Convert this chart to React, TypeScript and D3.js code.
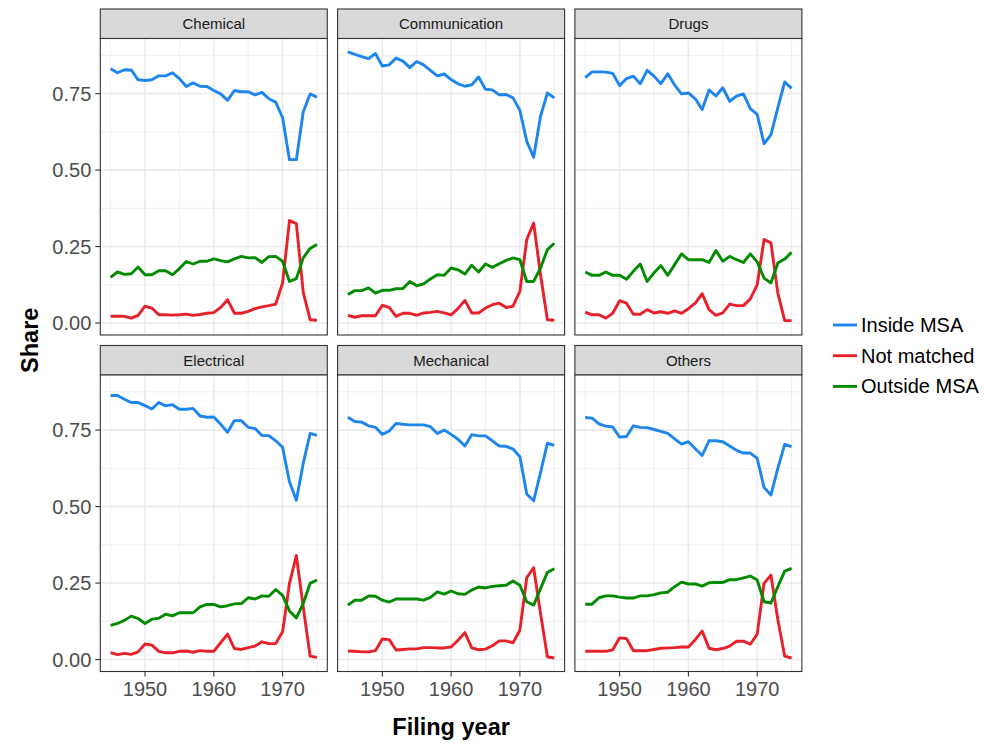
import React from "react";
import * as d3 from "d3";

const years = [1945, 1946, 1947, 1948, 1949, 1950, 1951, 1952, 1953, 1954, 1955, 1956, 1957, 1958, 1959, 1960, 1961, 1962, 1963, 1964, 1965, 1966, 1967, 1968, 1969, 1970, 1971, 1972, 1973, 1974, 1975];
const categories = ["Chemical", "Communication", "Drugs", "Electrical", "Mechanical", "Others"];
const seriesNames = ["Inside MSA", "Not matched", "Outside MSA"];
const seriesColors = ["#1C86EE", "#E8202A", "#008B00"];
const xTicks = [1950, 1960, 1970];
const xMinor = [1945, 1955, 1965, 1975];
const yTicks = [0, 0.25, 0.5, 0.75];
const yTickLabels = ["0.00", "0.25", "0.50", "0.75"];
const yMinor = [0.125, 0.375, 0.625, 0.875];

// Chemical
const chemicalInside = [0.831, 0.818, 0.828, 0.827, 0.795, 0.793, 0.795, 0.808, 0.808, 0.818, 0.799, 0.773, 0.785, 0.774, 0.773, 0.760, 0.749, 0.728, 0.760, 0.756, 0.756, 0.746, 0.754, 0.733, 0.722, 0.671, 0.534, 0.534, 0.690, 0.749, 0.738];
const chemicalNotMatched = [0.022, 0.022, 0.022, 0.016, 0.025, 0.055, 0.049, 0.027, 0.027, 0.026, 0.027, 0.029, 0.025, 0.028, 0.032, 0.034, 0.051, 0.076, 0.032, 0.032, 0.038, 0.047, 0.053, 0.057, 0.062, 0.131, 0.335, 0.325, 0.101, 0.011, 0.009];
const chemicalOutside = [0.149, 0.167, 0.159, 0.161, 0.183, 0.158, 0.158, 0.171, 0.171, 0.158, 0.178, 0.201, 0.193, 0.202, 0.202, 0.210, 0.204, 0.200, 0.210, 0.218, 0.213, 0.214, 0.198, 0.217, 0.218, 0.202, 0.136, 0.145, 0.213, 0.244, 0.257];

// Communication
const communicationInside = [0.886, 0.878, 0.871, 0.864, 0.881, 0.840, 0.844, 0.866, 0.856, 0.835, 0.855, 0.844, 0.826, 0.808, 0.814, 0.796, 0.782, 0.774, 0.779, 0.804, 0.764, 0.762, 0.746, 0.747, 0.736, 0.695, 0.594, 0.542, 0.676, 0.752, 0.736];
const communicationNotMatched = [0.025, 0.019, 0.024, 0.024, 0.024, 0.058, 0.051, 0.022, 0.032, 0.032, 0.025, 0.033, 0.035, 0.038, 0.033, 0.027, 0.047, 0.074, 0.033, 0.033, 0.049, 0.060, 0.065, 0.051, 0.055, 0.104, 0.273, 0.327, 0.158, 0.011, 0.009];
const communicationOutside = [0.093, 0.106, 0.106, 0.115, 0.098, 0.107, 0.107, 0.112, 0.113, 0.136, 0.122, 0.128, 0.144, 0.158, 0.156, 0.180, 0.174, 0.160, 0.189, 0.167, 0.193, 0.182, 0.194, 0.205, 0.213, 0.207, 0.136, 0.136, 0.180, 0.240, 0.261];

// Drugs
const drugsInside = [0.802, 0.821, 0.821, 0.820, 0.816, 0.776, 0.799, 0.807, 0.782, 0.826, 0.807, 0.782, 0.815, 0.778, 0.749, 0.752, 0.733, 0.698, 0.762, 0.742, 0.769, 0.725, 0.742, 0.749, 0.701, 0.682, 0.586, 0.616, 0.703, 0.788, 0.767];
const drugsNotMatched = [0.036, 0.027, 0.027, 0.016, 0.032, 0.073, 0.065, 0.029, 0.029, 0.044, 0.033, 0.037, 0.032, 0.040, 0.032, 0.047, 0.065, 0.096, 0.044, 0.025, 0.033, 0.062, 0.057, 0.057, 0.079, 0.125, 0.273, 0.262, 0.098, 0.008, 0.008];
const drugsOutside = [0.167, 0.156, 0.156, 0.167, 0.156, 0.156, 0.143, 0.169, 0.193, 0.136, 0.164, 0.188, 0.156, 0.191, 0.226, 0.207, 0.207, 0.207, 0.198, 0.237, 0.202, 0.218, 0.207, 0.198, 0.226, 0.200, 0.147, 0.131, 0.196, 0.209, 0.231];

// Electrical
const electricalInside = [0.863, 0.863, 0.851, 0.840, 0.840, 0.830, 0.819, 0.840, 0.829, 0.833, 0.818, 0.818, 0.821, 0.796, 0.792, 0.793, 0.769, 0.743, 0.781, 0.781, 0.759, 0.755, 0.732, 0.732, 0.715, 0.694, 0.581, 0.521, 0.641, 0.739, 0.733];
const electricalNotMatched = [0.023, 0.016, 0.020, 0.017, 0.025, 0.051, 0.047, 0.027, 0.022, 0.022, 0.027, 0.028, 0.024, 0.029, 0.027, 0.027, 0.055, 0.083, 0.036, 0.033, 0.039, 0.044, 0.058, 0.052, 0.052, 0.091, 0.249, 0.340, 0.172, 0.011, 0.007];
const electricalOutside = [0.112, 0.118, 0.128, 0.142, 0.134, 0.118, 0.132, 0.135, 0.148, 0.143, 0.153, 0.153, 0.153, 0.172, 0.180, 0.180, 0.172, 0.176, 0.182, 0.183, 0.202, 0.198, 0.208, 0.207, 0.229, 0.210, 0.159, 0.136, 0.183, 0.249, 0.260];

// Mechanical
const mechanicalInside = [0.792, 0.778, 0.776, 0.764, 0.759, 0.736, 0.747, 0.772, 0.769, 0.767, 0.767, 0.767, 0.761, 0.739, 0.750, 0.736, 0.720, 0.698, 0.735, 0.731, 0.731, 0.715, 0.698, 0.697, 0.688, 0.663, 0.541, 0.519, 0.611, 0.707, 0.700];
const mechanicalNotMatched = [0.028, 0.027, 0.025, 0.025, 0.029, 0.067, 0.065, 0.031, 0.033, 0.035, 0.035, 0.039, 0.039, 0.038, 0.038, 0.041, 0.063, 0.088, 0.038, 0.032, 0.034, 0.045, 0.061, 0.061, 0.055, 0.096, 0.268, 0.300, 0.150, 0.009, 0.005];
const mechanicalOutside = [0.178, 0.194, 0.194, 0.208, 0.207, 0.194, 0.188, 0.198, 0.198, 0.198, 0.198, 0.194, 0.203, 0.221, 0.214, 0.224, 0.215, 0.213, 0.227, 0.237, 0.234, 0.239, 0.241, 0.243, 0.257, 0.243, 0.189, 0.178, 0.232, 0.285, 0.297];

// Others
const othersInside = [0.791, 0.789, 0.770, 0.763, 0.760, 0.727, 0.729, 0.764, 0.759, 0.758, 0.752, 0.746, 0.739, 0.721, 0.704, 0.712, 0.689, 0.667, 0.715, 0.715, 0.712, 0.698, 0.684, 0.675, 0.675, 0.658, 0.562, 0.538, 0.625, 0.703, 0.696];
const othersNotMatched = [0.027, 0.027, 0.027, 0.027, 0.032, 0.071, 0.069, 0.029, 0.029, 0.029, 0.033, 0.037, 0.038, 0.039, 0.041, 0.041, 0.065, 0.093, 0.037, 0.032, 0.036, 0.044, 0.060, 0.060, 0.050, 0.083, 0.249, 0.276, 0.131, 0.011, 0.005];
const othersOutside = [0.181, 0.181, 0.202, 0.208, 0.208, 0.204, 0.201, 0.201, 0.208, 0.208, 0.212, 0.218, 0.220, 0.238, 0.253, 0.247, 0.247, 0.240, 0.251, 0.252, 0.252, 0.261, 0.261, 0.267, 0.273, 0.260, 0.189, 0.185, 0.238, 0.289, 0.298];

const panelSeries: number[][][] = [
  [chemicalInside, chemicalNotMatched, chemicalOutside],
  [communicationInside, communicationNotMatched, communicationOutside],
  [drugsInside, drugsNotMatched, drugsOutside],
  [electricalInside, electricalNotMatched, electricalOutside],
  [mechanicalInside, mechanicalNotMatched, mechanicalOutside],
  [othersInside, othersNotMatched, othersOutside],
];

const FONT = "'Liberation Sans', Arial, Helvetica, sans-serif";
const W = 988;
const H = 745;
const colX = [100.3, 337.6, 574.9];
const panelW = 227;
const stripTop = [9, 345.5];
const stripH = 29.5;
const panelH = 296.5;
const GRID = "#EBEBEB";
const BORDER = "#333333";

export default function App() {
  const allVals = panelSeries.flat(2);
  const vmin = d3.min(allVals) as number;
  const vmax = d3.max(allVals) as number;
  const ypad = (vmax - vmin) * 0.05;
  const xmin = d3.min(years) as number;
  const xmax = d3.max(years) as number;
  const xpad = (xmax - xmin) * 0.05;

  const x = d3.scaleLinear().domain([xmin - xpad, xmax + xpad]).range([0, panelW]);
  const y = d3.scaleLinear().domain([vmin - ypad, vmax + ypad]).range([panelH, 0]);
  const line = d3
    .line<number>()
    .x((_, i) => x(years[i]))
    .y((d) => y(d));

  return (
    <svg
      width={W}
      height={H}
      style={{ position: "absolute", left: 0, top: 0, background: "#fff" }}
      fontFamily={FONT}
    >
      <rect x={0} y={0} width={W} height={H} fill="#fff" />
      {categories.map((cat, ci) => {
        const col = ci % 3;
        const row = Math.floor(ci / 3);
        const px = colX[col];
        const sy = stripTop[row];
        const py = sy + stripH;
        return (
          <g key={cat}>
            {/* strip */}
            <rect x={px} y={sy} width={panelW} height={stripH} fill="#D9D9D9" stroke={BORDER} strokeWidth={1.1} />
            <text x={px + panelW / 2} y={sy + stripH / 2} textAnchor="middle" dominantBaseline="central" fontSize={15} fill="#1A1A1A">
              {cat}
            </text>
            <g transform={`translate(${px},${py})`}>
              <rect x={0} y={0} width={panelW} height={panelH} fill="#fff" />
              {yMinor.map((v) => (
                <line key={"ym" + v} x1={0} x2={panelW} y1={y(v)} y2={y(v)} stroke={GRID} strokeWidth={0.8} />
              ))}
              {xMinor.map((v) => (
                <line key={"xm" + v} y1={0} y2={panelH} x1={x(v)} x2={x(v)} stroke={GRID} strokeWidth={0.8} />
              ))}
              {yTicks.map((v) => (
                <line key={"y" + v} x1={0} x2={panelW} y1={y(v)} y2={y(v)} stroke={GRID} strokeWidth={1.6} />
              ))}
              {xTicks.map((v) => (
                <line key={"x" + v} y1={0} y2={panelH} x1={x(v)} x2={x(v)} stroke={GRID} strokeWidth={1.6} />
              ))}
              {panelSeries[ci].map((vals, si) => (
                <path
                  key={seriesNames[si]}
                  d={line(vals) || ""}
                  fill="none"
                  stroke={seriesColors[si]}
                  strokeWidth={2.9}
                  strokeLinejoin="round"
                  strokeLinecap="butt"
                />
              ))}
              <rect x={0} y={0} width={panelW} height={panelH} fill="none" stroke={BORDER} strokeWidth={1.1} />
              {col === 0 &&
                yTicks.map((v, i) => (
                  <g key={"yt" + v}>
                    <line x1={-5} x2={0} y1={y(v)} y2={y(v)} stroke={BORDER} strokeWidth={1.1} />
                    <text x={-9} y={y(v)} textAnchor="end" dominantBaseline="central" fontSize={20} fill="#4D4D4D">
                      {yTickLabels[i]}
                    </text>
                  </g>
                ))}
              {row === 1 &&
                xTicks.map((v) => (
                  <g key={"xt" + v}>
                    <line x1={x(v)} x2={x(v)} y1={panelH} y2={panelH + 5} stroke={BORDER} strokeWidth={1.1} />
                    <text x={x(v)} y={panelH + 24.5} textAnchor="middle" fontSize={20} fill="#4D4D4D">
                      {v}
                    </text>
                  </g>
                ))}
            </g>
          </g>
        );
      })}
      {/* axis titles */}
      <text x={(colX[0] + colX[2] + panelW) / 2} y={735} textAnchor="middle" fontSize={23.5} fontWeight="bold" fill="#000">
        Filing year
      </text>
      <text
        transform={`translate(38,${(stripTop[0] + stripTop[1] + stripH + panelH) / 2}) rotate(-90)`}
        textAnchor="middle"
        fontSize={23.5}
        fontWeight="bold"
        fill="#000"
      >
        Share
      </text>
      {/* legend */}
      {seriesNames.map((name, i) => {
        const ly = 325 + i * 30.7;
        return (
          <g key={name}>
            <line x1={833} x2={857} y1={ly} y2={ly} stroke={seriesColors[i]} strokeWidth={2.9} />
            <text x={861} y={ly} dominantBaseline="central" fontSize={20} fill="#000">
              {name}
            </text>
          </g>
        );
      })}
    </svg>
  );
}
